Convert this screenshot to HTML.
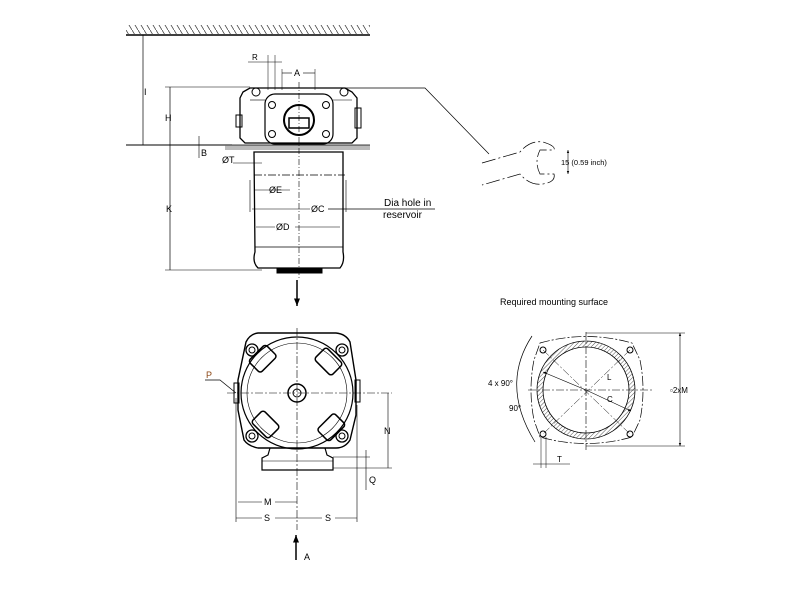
<!DOCTYPE html>
<html><head><meta charset="utf-8"><style>
html,body{margin:0;padding:0;background:#fff;}
svg{display:block;font-family:"Liberation Sans",sans-serif;}
</style></head><body>
<svg width="800" height="600" viewBox="0 0 800 600" xmlns="http://www.w3.org/2000/svg">
<defs>
<pattern id="h" width="6" height="10" patternUnits="userSpaceOnUse"><line x1="0" y1="0" x2="6" y2="10" stroke="#444" stroke-width="0.8"/></pattern>
<pattern id="h2" width="3" height="3" patternUnits="userSpaceOnUse" patternTransform="rotate(45)"><line x1="0" y1="0" x2="0" y2="3" stroke="#555" stroke-width="1"/></pattern>
<marker id="ar" viewBox="0 0 10 10" refX="10" refY="5" markerWidth="5" markerHeight="5" orient="auto-start-reverse"><path d="M0,1 L10,5 L0,9 z" fill="#000"/></marker>
</defs>
<g fill="none" stroke="#000" stroke-width="1">
<rect x="126" y="25" width="244" height="9" fill="url(#h)" stroke="none"/>
<line x1="126" y1="35" x2="370" y2="35" stroke-width="1.5"/>
<line x1="143" y1="35" x2="143" y2="145" stroke-width="0.7"/>
<line x1="126" y1="145" x2="232" y2="145"/>
<rect x="225" y="145" width="145" height="5" fill="#bbb" stroke="none"/>
<line x1="225" y1="145" x2="370" y2="145" stroke-width="0.8"/>
<line x1="165" y1="87" x2="250" y2="87" stroke-width="0.6"/>
<line x1="170" y1="87" x2="170" y2="270" stroke-width="0.7"/>
<line x1="165" y1="270" x2="262" y2="270" stroke-width="0.6"/>
<line x1="199" y1="136" x2="199" y2="158" stroke-width="0.6"/>
<path d="M243,92 L250,88 L345,88 L352,92 L357,98 L357,138 L352,143 L245,143 L240,138 L240,98 Z" stroke-width="1.3"/>
<rect x="265" y="94" width="68" height="50" rx="10" stroke-width="1.2"/>
<circle cx="299" cy="120" r="15" stroke-width="2"/>
<rect x="289" y="118" width="20" height="10" stroke-width="1.5"/>
<circle cx="272" cy="105" r="3.5"/><circle cx="326" cy="105" r="3.5"/>
<circle cx="272" cy="134" r="3.5"/><circle cx="326" cy="134" r="3.5"/>
<circle cx="256" cy="92" r="4"/><circle cx="344" cy="92" r="4"/>
<rect x="236" y="115" width="6" height="12"/><rect x="355" y="108" width="6" height="20"/>
<line x1="250" y1="100" x2="265" y2="100" stroke-width="0.6"/><line x1="333" y1="100" x2="352" y2="100" stroke-width="0.6"/>
<path d="M254,152 L343,152 L343,252 Q345,262 340,268 L258,268 Q252,262 255,252 Z" stroke-width="1.3"/>
<rect x="277" y="268" width="45" height="5" fill="#000"/>
<line x1="255" y1="247" x2="343" y2="247" stroke-width="0.7"/>
<line x1="299" y1="82" x2="299" y2="278" stroke-dasharray="6,2,1,2" stroke-width="0.6"/>
<line x1="254" y1="175" x2="345" y2="175" stroke-dasharray="8,2,2,2" stroke-width="0.8"/>
<line x1="233" y1="163" x2="262" y2="163" stroke-width="0.6"/>
<line x1="255" y1="190" x2="290" y2="190" stroke-width="0.6"/>
<line x1="252" y1="209" x2="310" y2="209" stroke-width="0.6"/>
<line x1="328" y1="209" x2="435" y2="209" stroke-width="0.7"/>
<line x1="256" y1="227" x2="275" y2="227" stroke-width="0.6"/>
<line x1="295" y1="227" x2="340" y2="227" stroke-width="0.6"/>
<line x1="250" y1="180" x2="250" y2="212" stroke-width="0.6"/>
<line x1="346" y1="180" x2="346" y2="212" stroke-width="0.6"/>
<line x1="282" y1="73" x2="292" y2="73" stroke-width="0.6"/><line x1="303" y1="73" x2="315" y2="73" stroke-width="0.6"/>
<line x1="282" y1="69" x2="282" y2="90" stroke-width="0.5"/><line x1="315" y1="69" x2="315" y2="90" stroke-width="0.5"/>
<line x1="268" y1="55" x2="268" y2="90" stroke-width="0.5"/><line x1="275" y1="55" x2="275" y2="90" stroke-width="0.5"/>
<line x1="248" y1="62" x2="282" y2="62" stroke-width="0.5"/>
<polyline points="345,88 425,88 489,154" stroke-width="0.7"/>
<path d="M482,163 L520,152 Q530,140 543,142 Q556,146 554,150 L540,150 Q534,162 540,174 L554,174 Q556,182 543,184 Q530,186 520,174 L482,185" stroke-dasharray="14,3,2,3" stroke-width="0.7"/>
<line x1="568" y1="150" x2="568" y2="174" stroke-width="0.6" marker-start="url(#ar)" marker-end="url(#ar)"/>
<line x1="297" y1="280" x2="297" y2="306" stroke-width="1.5" marker-end="url(#ar)"/>

<path d="M246,342 Q250,334 258,333 L336,333 Q346,334 350,342 L356,380 L356,415 L350,440 Q345,448 336,448 L258,448 Q248,446 244,440 L238,410 L238,380 Z" stroke-width="1.4"/>
<circle cx="297" cy="393" r="56" stroke-width="1.2"/>
<circle cx="297" cy="393" r="50" stroke-width="0.6"/>
<g transform="rotate(45 297 393)">
<rect x="285" y="340" width="24" height="17" rx="3" stroke-width="1.5"/>
<rect x="285" y="429" width="24" height="17" rx="3" stroke-width="1.5"/>
<rect x="240" y="381" width="17" height="24" rx="3" stroke-width="1.5"/>
<rect x="337" y="381" width="17" height="24" rx="3" stroke-width="1.5"/>
</g>
<circle cx="252" cy="350" r="6" stroke-width="1.3"/><circle cx="252" cy="350" r="3"/>
<circle cx="342" cy="350" r="6" stroke-width="1.3"/><circle cx="342" cy="350" r="3"/>
<circle cx="252" cy="436" r="6" stroke-width="1.3"/><circle cx="252" cy="436" r="3"/>
<circle cx="342" cy="436" r="6" stroke-width="1.3"/><circle cx="342" cy="436" r="3"/>
<circle cx="297" cy="393" r="9" stroke-width="1.5"/><circle cx="297" cy="393" r="4"/>
<rect x="234" y="383" width="5" height="20"/><rect x="355" y="380" width="5" height="22"/>
<path d="M270,448 L268,455 L262,458 L262,470 L333,470 L333,458 L327,455 L325,448" stroke-width="1.2"/>
<line x1="262" y1="461" x2="333" y2="461" stroke-width="0.6"/>
<line x1="297" y1="328" x2="297" y2="530" stroke-dasharray="8,2,2,2" stroke-width="0.6"/>
<line x1="227" y1="393" x2="392" y2="393" stroke-dasharray="8,2,2,2" stroke-width="0.6"/>
<polyline points="205,380 220,380 236,393" stroke-width="0.7"/>
<line x1="236" y1="398" x2="236" y2="522" stroke-width="0.6"/>
<line x1="357" y1="405" x2="357" y2="522" stroke-width="0.6"/>
<line x1="388" y1="393" x2="388" y2="468" stroke-width="0.6"/>
<line x1="333" y1="468" x2="392" y2="468" stroke-width="0.6"/>
<line x1="333" y1="457" x2="370" y2="457" stroke-width="0.6"/>
<line x1="366" y1="450" x2="366" y2="490" stroke-width="0.6"/>
<line x1="238" y1="502" x2="262" y2="502" stroke-width="0.6"/><line x1="275" y1="502" x2="297" y2="502" stroke-width="0.6"/>
<line x1="236" y1="518" x2="262" y2="518" stroke-width="0.6"/><line x1="275" y1="518" x2="322" y2="518" stroke-width="0.6"/><line x1="335" y1="518" x2="357" y2="518" stroke-width="0.6"/>
<line x1="296" y1="560" x2="296" y2="535" stroke-width="1.5" marker-end="url(#ar)"/>

<path d="M540,343 Q586,330 632,343 L640,360 Q646,390 640,420 L632,437 Q586,450 540,437 L534,420 Q528,390 534,360 Z" stroke-dasharray="10,2,2,2" stroke-width="0.7"/>
<circle cx="586" cy="390" r="49" stroke="none" fill="url(#h2)"/>
<circle cx="586" cy="390" r="49" stroke-width="0.8"/>
<circle cx="586" cy="390" r="43" fill="#fff" stroke-width="0.8"/>
<circle cx="543" cy="350" r="3"/><circle cx="630" cy="350" r="3"/>
<circle cx="543" cy="434" r="3"/><circle cx="630" cy="434" r="3"/>
<line x1="586" y1="332" x2="586" y2="450" stroke-dasharray="8,2,2,2" stroke-width="0.6"/>
<line x1="528" y1="390" x2="652" y2="390" stroke-dasharray="8,2,2,2" stroke-width="0.6"/>
<line x1="543" y1="350" x2="630" y2="434" stroke-dasharray="8,2,2,2" stroke-width="0.5"/>
<line x1="630" y1="350" x2="543" y2="434" stroke-dasharray="8,2,2,2" stroke-width="0.5"/>
<line x1="586" y1="390" x2="543" y2="372" stroke-width="0.6" marker-end="url(#ar)"/>
<line x1="586" y1="390" x2="631" y2="411" stroke-width="0.6" marker-end="url(#ar)"/>
<path d="M532,336 Q500,385 535,442" stroke-width="0.7"/>
<line x1="586" y1="333" x2="685" y2="333" stroke-width="0.5"/>
<line x1="586" y1="446" x2="685" y2="446" stroke-width="0.5"/>
<line x1="680" y1="333" x2="680" y2="446" stroke-width="0.6" marker-start="url(#ar)" marker-end="url(#ar)"/>
<line x1="541" y1="437" x2="541" y2="468" stroke-width="0.5"/><line x1="546" y1="437" x2="546" y2="468" stroke-width="0.5"/>
<line x1="533" y1="464" x2="570" y2="464" stroke-width="0.5"/>
</g>
<g font-size="9" fill="#000">
<text x="144" y="95">I</text>
<text x="165" y="121">H</text>
<text x="166" y="212">K</text>
<text x="201" y="156">B</text>
<text x="222" y="163">ØT</text>
<text x="269" y="193">ØE</text>
<text x="311" y="212">ØC</text>
<text x="276" y="230">ØD</text>
<text x="384" y="206" font-size="10">Dia hole in</text>
<text x="383" y="218" font-size="10">reservoir</text>
<text x="252" y="60" font-size="8">R</text>
<text x="294" y="76">A</text>
<text x="561" y="165" font-size="7.5">15 (0.59 inch)</text>
<text x="206" y="378" fill="#8b4513">P</text>
<text x="384" y="434">N</text>
<text x="369" y="483">Q</text>
<text x="264" y="505">M</text>
<text x="264" y="521">S</text>
<text x="325" y="521">S</text>
<text x="304" y="560">A</text>
<text x="500" y="305" font-size="9">Required mounting surface</text>
<text x="488" y="386" font-size="8">4 x 90°</text>
<text x="509" y="411" font-size="8">90°</text>
<text x="607" y="380" font-size="8">L</text>
<text x="607" y="402" font-size="8">C</text>
<text x="670" y="393" font-size="8">▫2xM</text>
<text x="557" y="462" font-size="8">T</text>
</g>
</svg>
</body></html>
